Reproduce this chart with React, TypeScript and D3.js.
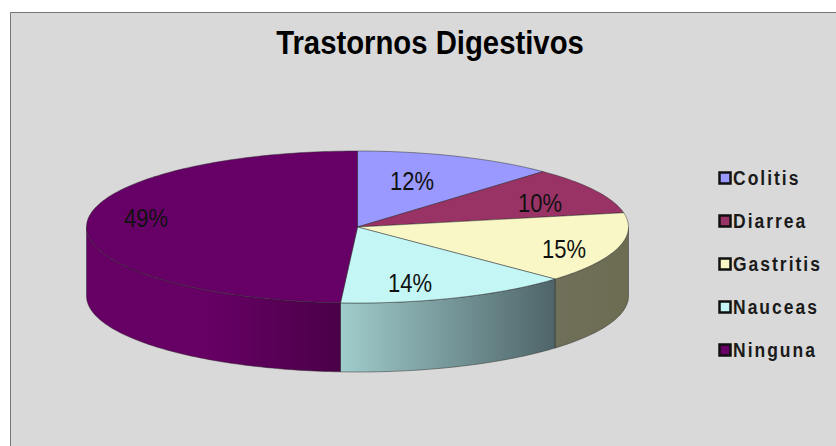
import React from "react";
import * as d3 from "d3";

const categories = ["Colitis", "Diarrea", "Gastritis", "Nauceas", "Ninguna"];
const shares = [12, 10, 15, 14, 49];
const topColors = ["#9999ff", "#993366", "#f9f7c6", "#c4f6f6", "#660066"];
const wallStart = ["#6c6ca8", "#64264a", "#70705a", "#a0cccc", "#660064"];
const wallEnd = ["#6c6ca8", "#64264a", "#6c6c52", "#4e6468", "#4a0048"];
const wallHold = [0, 0, 0, 0, 0.5];
const chartTitle = "Trastornos Digestivos";

const WIDTH = 836;
const HEIGHT = 446;
const CX = 357.5;
const CY = 227;
const RX = 271;
const RY = 76;
const DEPTH = 69;

const FONT = "'Liberation Sans', Arial, sans-serif";

// Label centres within the chart, one per slice
const labelCentres: [number, number][] = [
  [412, 181],
  [540, 203],
  [564, 249],
  [410, 283],
  [146, 218],
];

const legendY = d3.scalePoint<string>().domain(categories).range([178, 350]);

// Slice angles run clockwise from twelve o'clock, as d3.pie reports them
const pie = d3.pie<number>().sort(null).value((d) => d);
const slices = pie(shares);

const onRim = (a: number, dy = 0): [number, number] => [
  CX + RX * Math.sin(a),
  CY - RY * Math.cos(a) + dy,
];

const rimPoints = (a0: number, a1: number, dy = 0) => {
  const steps = Math.max(2, Math.ceil(Math.abs(a1 - a0) / 0.02));
  return d3.range(steps + 1).map((i) => onRim(a0 + ((a1 - a0) * i) / steps, dy));
};

const line = d3.line();

const topPath = (a0: number, a1: number) =>
  `${line([[CX, CY], ...rimPoints(a0, a1)])}Z`;

// The outer wall is visible only on the lower half of the rim
const wallPath = (a0: number, a1: number) => {
  const from = Math.max(a0, Math.PI / 2);
  const to = Math.min(a1, (3 * Math.PI) / 2);
  if (to <= from) return null;
  return `${line([...rimPoints(from, to), ...rimPoints(to, from, DEPTH)])}Z`;
};

export default function App() {
  return (
    <svg
      width={WIDTH}
      height={HEIGHT}
      viewBox={`0 0 ${WIDTH} ${HEIGHT}`}
      style={{ position: "absolute", left: 0, top: 0, display: "block" }}
    >
      <defs>
        {categories.map((c, i) => (
          <linearGradient key={c} id={`wall-${i}`} x1="0" x2="1" y1="0" y2="0">
            <stop offset={wallHold[i]} stopColor={wallStart[i]} />
            <stop offset="1" stopColor={wallEnd[i]} />
          </linearGradient>
        ))}
      </defs>
      <rect width={WIDTH} height={HEIGHT} fill="#ffffff" />
      <rect x={10} y={12} width={WIDTH - 10} height={HEIGHT - 12} fill="#d9d9d9" />
      <path d={`M10.5 ${HEIGHT}V12.5H${WIDTH}`} fill="none" stroke="#777777" strokeWidth={1} />

      <text
        transform="translate(430,54) scale(1,1.13)"
        textAnchor="middle"
        fontFamily={FONT}
        fontWeight={700}
        fontSize={29.3}
        fill="#000000"
      >
        {chartTitle}
      </text>

      {slices.map((s, i) => {
        const d = wallPath(s.startAngle, s.endAngle);
        return d ? (
          <path key={categories[i]} d={d} fill={`url(#wall-${i})`} stroke="#2a2a2a" strokeOpacity={0.6} strokeWidth={0.8} />
        ) : null;
      })}
      {slices.map((s, i) => (
        <path
          key={categories[i]}
          d={topPath(s.startAngle, s.endAngle)}
          fill={topColors[i]}
          stroke="#2a2a2a"
          strokeOpacity={0.6}
          strokeWidth={0.8}
        />
      ))}

      {slices.map((s, i) => (
        <text
          key={categories[i]}
          transform={`translate(${labelCentres[i][0]},${labelCentres[i][1]}) scale(1,1.2)`}
          textAnchor="middle"
          dominantBaseline="central"
          fontFamily={FONT}
          fontSize={22}
          fill="#111111"
        >
          {`${s.data}%`}
        </text>
      ))}

      {categories.map((c, i) => {
        const y = legendY(c) as number;
        return (
          <g key={c}>
            <rect x={719.5} y={y - 5.5} width={11} height={11} fill={topColors[i]} stroke="#111111" strokeWidth={2.5} />
            <text
              transform={`translate(733,${y}) scale(1,1.2)`}
              dominantBaseline="central"
              fontFamily={FONT}
              fontWeight={700}
              fontSize={17.5}
              letterSpacing={2}
              fill="#1a1a1a"
            >
              {c}
            </text>
          </g>
        );
      })}
    </svg>
  );
}
